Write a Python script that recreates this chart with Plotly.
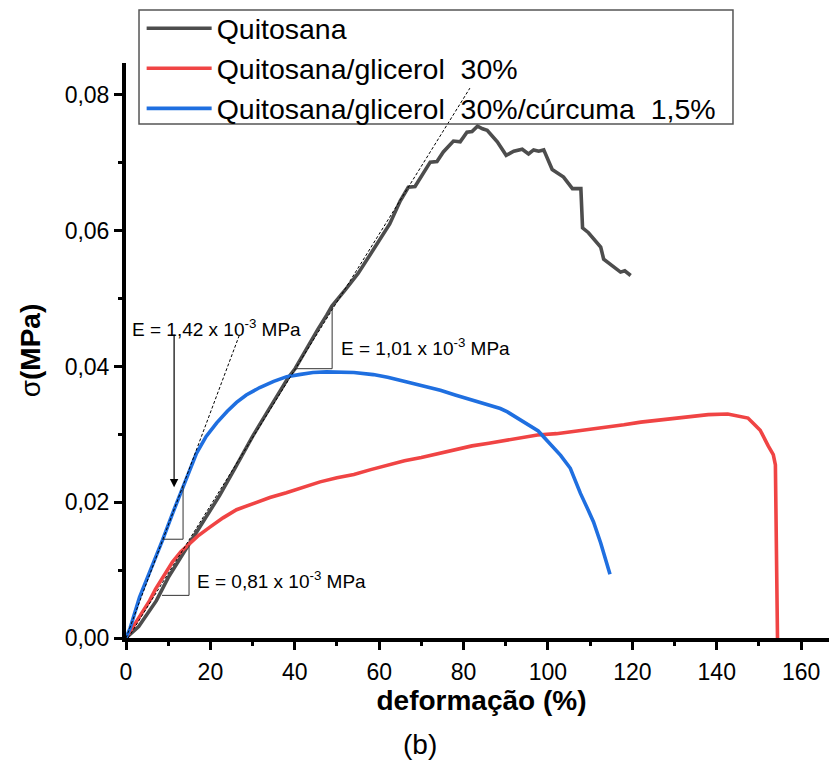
import plotly.graph_objects as go

# ---------------- data ----------------
series_names = ["Quitosana", "Quitosana/glicerol  30%", "Quitosana/glicerol  30%/cúrcuma  1,5%"]
series_colors = ["#4d4d4d", "#f04444", "#1f6fe0"]

quit_x = [0, 3, 7.2, 10, 14.8, 18, 22.2, 26, 30, 33, 35.7, 38.4, 40.1, 42.9, 45.5, 47.6, 48.8,
          52, 55, 58, 60, 62.5, 65, 66.9, 68.5, 70.4, 72.1, 73.7, 75.2, 77.6, 79.2, 80.8, 82,
          83.3, 84.5, 85.6, 88, 90.1, 91.9, 93.9, 95.4, 96.6, 97.8, 99, 101, 103.7, 105.8,
          107.8, 108.2, 109.6, 112.5, 113.2, 114.8, 117.2, 118.2, 119.6]
quit_y = [0, 0.0017, 0.0055, 0.0089, 0.0137, 0.0168, 0.0210, 0.0252, 0.0297, 0.0328, 0.0356,
          0.0383, 0.0397, 0.0428, 0.0455, 0.0476, 0.0489, 0.0513, 0.0537, 0.0566, 0.0586,
          0.0610, 0.0644, 0.0664, 0.0665, 0.0683, 0.0701, 0.0702, 0.0716, 0.0732, 0.0731,
          0.0745, 0.0746, 0.0754, 0.0750, 0.0748, 0.0731, 0.0711, 0.0717, 0.0720, 0.0713,
          0.0719, 0.0717, 0.0719, 0.0690, 0.0679, 0.0662, 0.0662, 0.0604, 0.0597, 0.0576,
          0.0558, 0.0551, 0.0539, 0.0541, 0.0534]

glic_x = [0, 2, 4, 5.6, 7, 8.7, 11, 13, 14.8, 17, 19.8, 23, 26.2, 30, 34.1, 38, 42, 46, 50,
          54, 58, 61.9, 66, 70, 74, 77.6, 82, 86, 90, 94, 97.5, 102, 106, 110, 114, 118, 122,
          126, 130, 134, 138, 142.6, 145, 147.4, 149, 150.3, 152.2, 153.4, 153.9, 154.2, 154.4]
glic_y = [0, 0.0019, 0.0040, 0.0055, 0.0072, 0.0089, 0.0112, 0.0127, 0.0137, 0.0150, 0.0163,
          0.0177, 0.0189, 0.0198, 0.0207, 0.0214, 0.0222, 0.0230, 0.0236, 0.0241, 0.0248,
          0.0255, 0.0261, 0.0266, 0.0272, 0.0277, 0.0283, 0.0287, 0.0291, 0.0295, 0.0299,
          0.0301, 0.0304, 0.0307, 0.0311, 0.0314, 0.0318, 0.0321, 0.0324, 0.0326, 0.0329,
          0.0330, 0.0327, 0.0324, 0.0314, 0.0306, 0.0283, 0.0270, 0.0255, 0.0120, 0]

curc_x = [0, 1, 3.2, 6, 8.7, 11, 13.4, 16.7, 19, 21.5, 24, 26.2, 28.5, 31.7, 35, 38.1, 41,
          44.3, 47.5, 50.7, 54, 58.6, 62, 66.6, 70, 74.5, 78, 82.4, 86, 88.7, 90.4, 93.5, 97.7,
          99, 101, 103, 105.3, 107.7, 109.5, 110.8, 112.5, 114.7]
curc_y = [0, 0.0015, 0.0060, 0.0102, 0.0145, 0.0183, 0.0222, 0.0272, 0.0297, 0.0317, 0.0334,
          0.0347, 0.0358, 0.0369, 0.0378, 0.0385, 0.0388, 0.0391, 0.0392, 0.0392, 0.0391,
          0.0388, 0.0384, 0.0377, 0.0372, 0.0365, 0.0358, 0.0350, 0.0343, 0.0338, 0.0333,
          0.0321, 0.0305, 0.0296, 0.0283, 0.0269, 0.0250, 0.0213, 0.0189, 0.0171, 0.0140,
          0.0094]

# tangent (modulus) guide lines
tan_curc_x = [0, 26.8]
tan_curc_y = [0, 0.0445]
tan_quit_x = [0.5, 81.5]
tan_quit_y = [0, 0.0810]

modulus_labels = ["E = 1,42 x 10<sup>-3</sup> MPa", "E = 1,01 x 10<sup>-3</sup> MPa",
                  "E = 0,81 x 10<sup>-3</sup> MPa"]

x_ticks = [0, 20, 40, 60, 80, 100, 120, 140, 160]
y_ticks = [0, 0.02, 0.04, 0.06, 0.08]

FONT = "Liberation Sans, Arial, sans-serif"

fig = go.Figure()
for xs, ys, name, col in zip([quit_x, glic_x, curc_x], [quit_y, glic_y, curc_y],
                             series_names, series_colors):
    fig.add_trace(go.Scatter(x=xs, y=ys, mode="lines", name=name,
                             line=dict(color=col, width=3.6)))

for xs, ys in [(tan_curc_x, tan_curc_y), (tan_quit_x, tan_quit_y)]:
    fig.add_trace(go.Scatter(x=xs, y=ys, mode="lines", showlegend=False,
                             line=dict(color="black", width=1, dash="3px,2px"),
                             hoverinfo="skip"))

# brackets (slope triangles)
bracket_col = "#333333"
for (xa, xb, ya, yb) in [(8.77, 13.52, 0.01455, 0.02223),
                         (40.08, 48.85, 0.03967, 0.04883),
                         (8.54, 14.94, 0.00628, 0.01367)]:
    fig.add_shape(type="line", x0=xa, x1=xb, y0=ya, y1=ya, xref="x", yref="y",
                  line=dict(color=bracket_col, width=1))
    fig.add_shape(type="line", x0=xb, x1=xb, y0=ya, y1=yb, xref="x", yref="y",
                  line=dict(color=bracket_col, width=1))

# legend box
fig.add_shape(type="rect", xref="paper", yref="paper", x0=0.0183, x1=0.8537,
              y0=0.894, y1=1.0921, line=dict(color="#555555", width=1.5),
              fillcolor="rgba(0,0,0,0)")

ann_font = dict(family=FONT, size=19, color="black")
fig.add_annotation(x=0.95, y=0.0457, text=modulus_labels[0], showarrow=False,
                   xanchor="left", yanchor="middle", font=ann_font)
fig.add_annotation(x=50.5, y=0.0429, text=modulus_labels[1], showarrow=False,
                   xanchor="left", yanchor="middle", font=ann_font)
fig.add_annotation(x=16.4, y=0.0085, text=modulus_labels[2], showarrow=False,
                   xanchor="left", yanchor="middle", font=ann_font)
# arrow
fig.add_annotation(x=11.4, y=0.0222, ax=11.4, ay=0.0449, axref="x", ayref="y",
                   xref="x", yref="y", text="", showarrow=True, arrowhead=2,
                   arrowsize=1.4, arrowwidth=1.2, arrowcolor="black")
# panel label
fig.add_annotation(x=0.4135, y=-0.185, xref="paper", yref="paper", text="(b)",
                   showarrow=False, font=dict(family=FONT, size=28, color="black"),
                   xanchor="center", yanchor="middle")

axis_common = dict(showline=True, linecolor="black", linewidth=4, showgrid=False,
                   zeroline=False, ticks="outside", ticklen=8, tickwidth=3,
                   tickcolor="black", mirror=False, automargin=False,
                   tickfont=dict(family=FONT, size=23, color="black"))

fig.update_xaxes(range=[0, 168.5], tickvals=x_ticks, ticklabelstandoff=2,
                 minor=dict(dtick=10, ticks="outside", ticklen=4, tickwidth=3,
                            tickcolor="black"),
                 title=dict(text="<b>deformação (%)</b>",
                            font=dict(family=FONT, size=28, color="black"), standoff=5),
                 **axis_common)
fig.update_yaxes(range=[0, 0.0847], tickvals=y_ticks, tickformat=".2f",
                 minor=dict(dtick=0.01, ticks="outside", ticklen=4, tickwidth=3,
                            tickcolor="black"),
                 title=dict(text="σ<b>(MPa)</b>",
                            font=dict(family=FONT, size=28, color="black"), standoff=17),
                 **axis_common)

# the page body adds an 8 px offset, so the figure is sized to fit the window
fig.update_layout(
    width=829, height=752,
    margin=dict(l=118, r=0, t=55, b=121.5, autoexpand=False),
    paper_bgcolor="white", plot_bgcolor="white",
    separators=",.",
    font=dict(family=FONT, color="black"),
    showlegend=True,
    legend=dict(x=0.022, y=1.104, xanchor="left", yanchor="top",
                bgcolor="rgba(0,0,0,0)", borderwidth=0, itemwidth=65,
                font=dict(family=FONT, size=28.5, color="black"),
                tracegroupgap=0),
)

fig.write_html("out.html")
